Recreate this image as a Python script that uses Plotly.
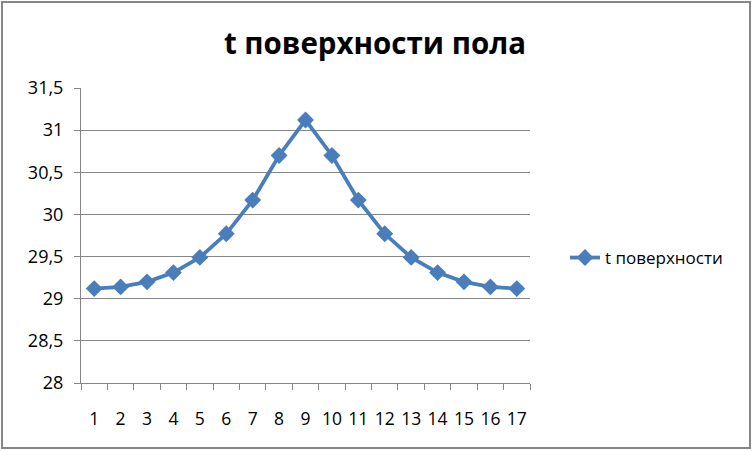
import plotly.graph_objects as go

categories = [str(i) for i in range(1, 18)]
values = [29.12, 29.14, 29.20, 29.31, 29.49, 29.77, 30.17, 30.70, 31.12,
          30.70, 30.17, 29.77, 29.49, 29.31, 29.20, 29.14, 29.12]
y_ticks = [28, 28.5, 29, 29.5, 30, 30.5, 31, 31.5]
y_tick_labels = ["28", "28,5", "29", "29,5", "30", "30,5", "31", "31,5"]
series_name = "t поверхности"
title_text = "t поверхности пола"

L, R, T, B = 81, 223, 88, 68
W, H = 753, 451
pw, ph = W - L - R, H - T - B
FONT = "Open Sans, Lato, sans-serif"

fig = go.Figure()
fig.add_trace(go.Scatter(
    x=categories, y=values, mode="lines+markers", name=series_name,
    line=dict(color="#4A7EBB", width=3.8),
    marker=dict(symbol="diamond", size=13, color="#4A7EBB"),
))

def px2x(p):
    return (p - L) / pw

def py2y(p):
    return (H - B - p) / ph

fig.update_layout(
    width=W, height=H,
    margin=dict(l=L, r=R, t=T, b=B),
    paper_bgcolor="white", plot_bgcolor="white",
    font=dict(family=FONT, size=17, color="#000000"),
    title=dict(text="<b>" + title_text + "</b>", x=375 / W, xanchor="center",
               y=1 - 44 / H, yanchor="middle",
               font=dict(size=29.5, family=FONT)),
    showlegend=True,
    legend=dict(x=px2x(565), xanchor="left", y=py2y(258), yanchor="middle",
                font=dict(size=17), bgcolor="rgba(0,0,0,0)"),
    xaxis=dict(type="category", range=[-0.5, 16.5], showgrid=False,
               showline=True, linecolor="#868686", linewidth=1,
               ticks="outside", tickson="boundaries", ticklen=6,
               tickcolor="#868686", tickfont=dict(size=17.5), tickangle=0,
               ticklabelstandoff=20),
    yaxis=dict(range=[28, 31.5], tickvals=y_ticks, ticktext=y_tick_labels,
               showgrid=True, gridcolor="#868686", gridwidth=1,
               showline=True, linecolor="#868686", linewidth=1,
               ticks="outside", ticklen=6, tickcolor="#868686",
               tickfont=dict(size=18), zeroline=False, ticklabelstandoff=7),
    shapes=[dict(type="rect", xref="paper", yref="paper",
                 x0=px2x(2), x1=px2x(750), y0=py2y(448), y1=py2y(2),
                 line=dict(color="#868686", width=2), fillcolor="rgba(0,0,0,0)",
                 layer="below")],
)

fig.write_html("out.html", config={"displayModeBar": False},
               post_script="document.body.style.margin='0';document.body.style.overflow='hidden';")
